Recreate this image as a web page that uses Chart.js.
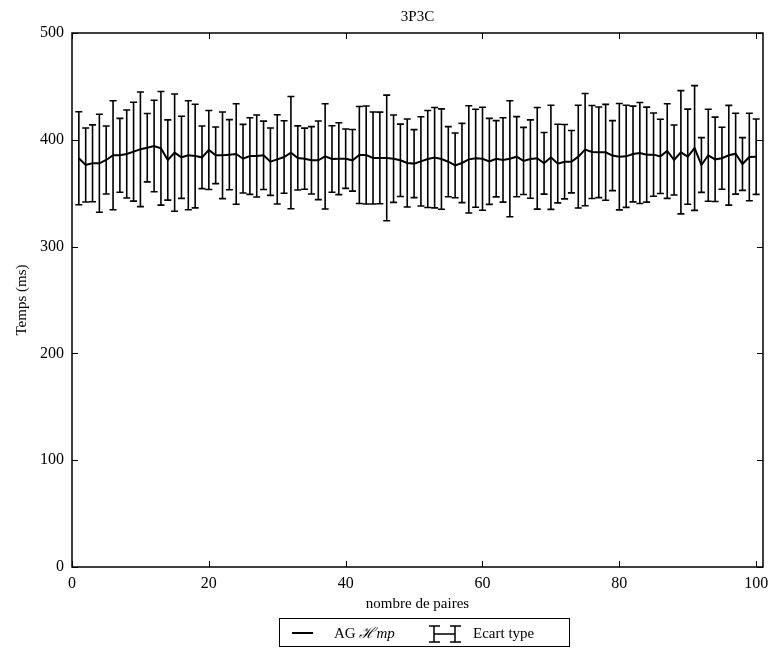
<!DOCTYPE html>
<html>
<head>
<meta charset="utf-8">
<title>3P3C</title>
<script src="https://cdn.jsdelivr.net/npm/chart.js@4/dist/chart.umd.min.js"></script>
<style>
  body { margin: 0; background: #fff; }
  canvas { display: block; }
</style>
</head>
<body>
<canvas id="chart" width="771" height="653"></canvas>
<script>
// Temps moyen (ms) et écart type par nombre de paires
const paires = [
  1, 2, 3, 4, 5, 6, 7, 8, 9, 10, 11, 12, 13, 14, 15, 16, 17, 18, 19, 20,
  21, 22, 23, 24, 25, 26, 27, 28, 29, 30, 31, 32, 33, 34, 35, 36, 37, 38, 39, 40,
  41, 42, 43, 44, 45, 46, 47, 48, 49, 50, 51, 52, 53, 54, 55, 56, 57, 58, 59, 60,
  61, 62, 63, 64, 65, 66, 67, 68, 69, 70, 71, 72, 73, 74, 75, 76, 77, 78, 79, 80,
  81, 82, 83, 84, 85, 86, 87, 88, 89, 90, 91, 92, 93, 94, 95, 96, 97, 98, 99, 100
];
const tempsMoyen = [
  382.7, 376.4, 378.0, 378.0, 381.1, 385.5, 385.5, 386.7, 388.9, 391.1,
  392.6, 394.2, 392.0, 381.1, 388.0, 383.6, 385.5, 384.8, 383.6, 390.5,
  385.5, 385.5, 386.1, 386.7, 382.3, 384.8, 384.8, 385.5, 379.5, 381.7,
  383.9, 388.0, 383.0, 382.3, 380.8, 380.8, 384.5, 382.0, 382.3, 382.3,
  380.8, 385.8, 385.8, 383.0, 383.0, 383.0, 382.3, 380.8, 378.3, 377.7,
  379.8, 382.0, 383.3, 382.0, 379.5, 376.1, 378.3, 381.7, 382.7, 382.3,
  379.8, 382.3, 381.1, 382.3, 384.2, 380.2, 382.0, 382.7, 378.0, 383.6,
  377.7, 379.5, 379.5, 384.2, 390.8, 388.6, 388.3, 388.3, 385.2, 384.2,
  384.5, 386.7, 387.6, 386.1, 386.1, 384.5, 389.5, 381.1, 388.3, 384.2,
  392.3, 376.4, 385.5, 381.7, 382.7, 385.5, 387.0, 377.3, 383.9, 384.2
];
const ecartType = [
  43.5, 34.6, 36.0, 45.9, 31.8, 51.0, 34.6, 41.2, 46.3, 53.7,
  32.0, 42.8, 53.2, 37.6, 54.9, 38.4, 51.0, 48.5, 29.3, 37.0,
  26.5, 40.6, 32.8, 47.1, 32.1, 35.9, 38.4, 32.0, 31.5, 41.8,
  34.0, 52.6, 30.0, 28.6, 31.5, 36.8, 49.3, 31.1, 33.6, 27.8,
  28.9, 45.4, 45.9, 43.1, 42.9, 58.8, 40.9, 33.9, 41.2, 31.8,
  41.8, 45.4, 47.0, 47.0, 32.8, 30.3, 37.1, 50.2, 45.9, 48.2,
  40.3, 35.7, 39.5, 54.3, 37.5, 31.4, 36.7, 47.6, 28.9, 48.7,
  36.8, 34.8, 29.2, 48.1, 52.6, 43.5, 42.4, 44.9, 32.8, 49.8,
  47.8, 44.8, 47.3, 44.5, 39.0, 34.8, 44.3, 32.8, 57.7, 44.5,
  58.4, 25.6, 43.1, 39.5, 29.0, 46.7, 37.9, 24.7, 41.0, 35.3
];
const xTicks = [0, 20, 40, 60, 80, 100];
const yTicks = [0, 100, 200, 300, 400, 500];

const FONT = '"Liberation Serif", "DejaVu Serif", serif';

// barres d'erreur dessinées à partir des échelles du graphique
const errorBars = {
  id: 'errorBars',
  beforeDatasetsDraw(chart) {
    const ctx = chart.ctx;
    const xs = chart.scales.x, ys = chart.scales.y;
    ctx.save();
    ctx.strokeStyle = '#000';
    ctx.lineWidth = 1.6;
    const cap = 3.5;
    paires.forEach((p, i) => {
      const x = xs.getPixelForValue(p);
      const yt = ys.getPixelForValue(tempsMoyen[i] + ecartType[i]);
      const yb = ys.getPixelForValue(tempsMoyen[i] - ecartType[i]);
      ctx.beginPath();
      ctx.moveTo(x, yt); ctx.lineTo(x, yb);
      ctx.moveTo(x - cap, yt); ctx.lineTo(x + cap, yt);
      ctx.moveTo(x - cap, yb); ctx.lineTo(x + cap, yb);
      ctx.stroke();
    });
    ctx.restore();
  }
};

// cadre, graduations intérieures, titres et légende
const decor = {
  id: 'decor',
  afterDraw(chart) {
    const ctx = chart.ctx;
    const a = chart.chartArea;
    const xs = chart.scales.x, ys = chart.scales.y;
    ctx.save();
    ctx.strokeStyle = '#000';
    ctx.lineWidth = 1.5;
    ctx.strokeRect(a.left, a.top, a.right - a.left, a.bottom - a.top);

    ctx.lineWidth = 1;
    const tl = 6;
    ctx.beginPath();
    xTicks.forEach(v => {
      const x = Math.round(xs.getPixelForValue(v)) + 0.5;
      ctx.moveTo(x, a.bottom); ctx.lineTo(x, a.bottom - tl);
      ctx.moveTo(x, a.top); ctx.lineTo(x, a.top + tl);
    });
    yTicks.forEach(v => {
      const y = Math.round(ys.getPixelForValue(v)) + 0.5;
      ctx.moveTo(a.left, y); ctx.lineTo(a.left + tl, y);
      ctx.moveTo(a.right, y); ctx.lineTo(a.right - tl, y);
    });
    ctx.stroke();

    const cx = (a.left + a.right) / 2;
    ctx.fillStyle = '#000';
    ctx.font = '15px ' + FONT;
    ctx.textAlign = 'center';
    ctx.textBaseline = 'middle';
    ctx.fillText('3P3C', cx, 17);
    ctx.fillText('nombre de paires', cx, 604);

    ctx.save();
    ctx.translate(22, (a.top + a.bottom) / 2);
    ctx.rotate(-Math.PI / 2);
    ctx.fillText('Temps (ms)', 0, 0);
    ctx.restore();

    // légende
    ctx.lineWidth = 1;
    ctx.strokeRect(279.5, 618.5, 290, 28);
    ctx.lineWidth = 2;
    ctx.beginPath();
    ctx.moveTo(292, 633); ctx.lineTo(313, 633);
    ctx.stroke();

    ctx.textAlign = 'left';
    ctx.textBaseline = 'alphabetic';
    let tx = 334;
    const base = 638;
    ctx.font = '15px ' + FONT;
    ctx.fillText('AG ', tx, base);
    tx += ctx.measureText('AG ').width;
    ctx.font = 'italic 15px ' + FONT;
    ctx.fillText('\u210B', tx, base);
    tx += ctx.measureText('\u210B').width + 1;
    ctx.fillText('mp', tx, base);

    ctx.lineWidth = 1.5;
    ctx.beginPath();
    ctx.moveTo(434, 626); ctx.lineTo(434, 642);
    ctx.moveTo(429, 626); ctx.lineTo(440, 626);
    ctx.moveTo(429, 642); ctx.lineTo(440, 642);
    ctx.moveTo(455, 626); ctx.lineTo(455, 642);
    ctx.moveTo(450, 626); ctx.lineTo(461, 626);
    ctx.moveTo(450, 642); ctx.lineTo(461, 642);
    ctx.moveTo(434, 634); ctx.lineTo(455, 634);
    ctx.stroke();

    ctx.font = '15px ' + FONT;
    ctx.fillText('Ecart type', 473, base);
    ctx.restore();
  }
};

const points = paires.map((p, i) => ({ x: p, y: tempsMoyen[i] }));

new Chart(document.getElementById('chart').getContext('2d'), {
  type: 'line',
  data: {
    datasets: [{
      label: 'AG Hmp',
      data: points,
      borderColor: '#000',
      borderWidth: 2,
      pointRadius: 0,
      tension: 0,
      fill: false
    }]
  },
  options: {
    responsive: false,
    animation: false,
    layout: { padding: { top: 33, right: 8, bottom: 62, left: 0 } },
    plugins: {
      legend: { display: false },
      title: { display: false },
      tooltip: { enabled: false }
    },
    scales: {
      x: {
        type: 'linear',
        min: 0,
        max: 101,
        afterBuildTicks(scale) { scale.ticks = xTicks.map(v => ({ value: v })); },
        afterFit(scale) {
          scale.height = 24;
          scale.paddingLeft = 0;
          scale.paddingRight = 0;
        },
        grid: { display: false, drawTicks: false },
        border: { display: false },
        ticks: { color: '#000', padding: 7, maxRotation: 0, font: { family: FONT, size: 16 } }
      },
      y: {
        min: 0,
        max: 500,
        afterBuildTicks(scale) { scale.ticks = yTicks.map(v => ({ value: v })); },
        afterFit(scale) {
          scale.width = 72;
          scale.paddingTop = 0;
          scale.paddingBottom = 0;
        },
        grid: { display: false, drawTicks: false },
        border: { display: false },
        ticks: { color: '#000', padding: 8, font: { family: FONT, size: 16 } }
      }
    }
  },
  plugins: [errorBars, decor]
});
</script>
</body>
</html>
